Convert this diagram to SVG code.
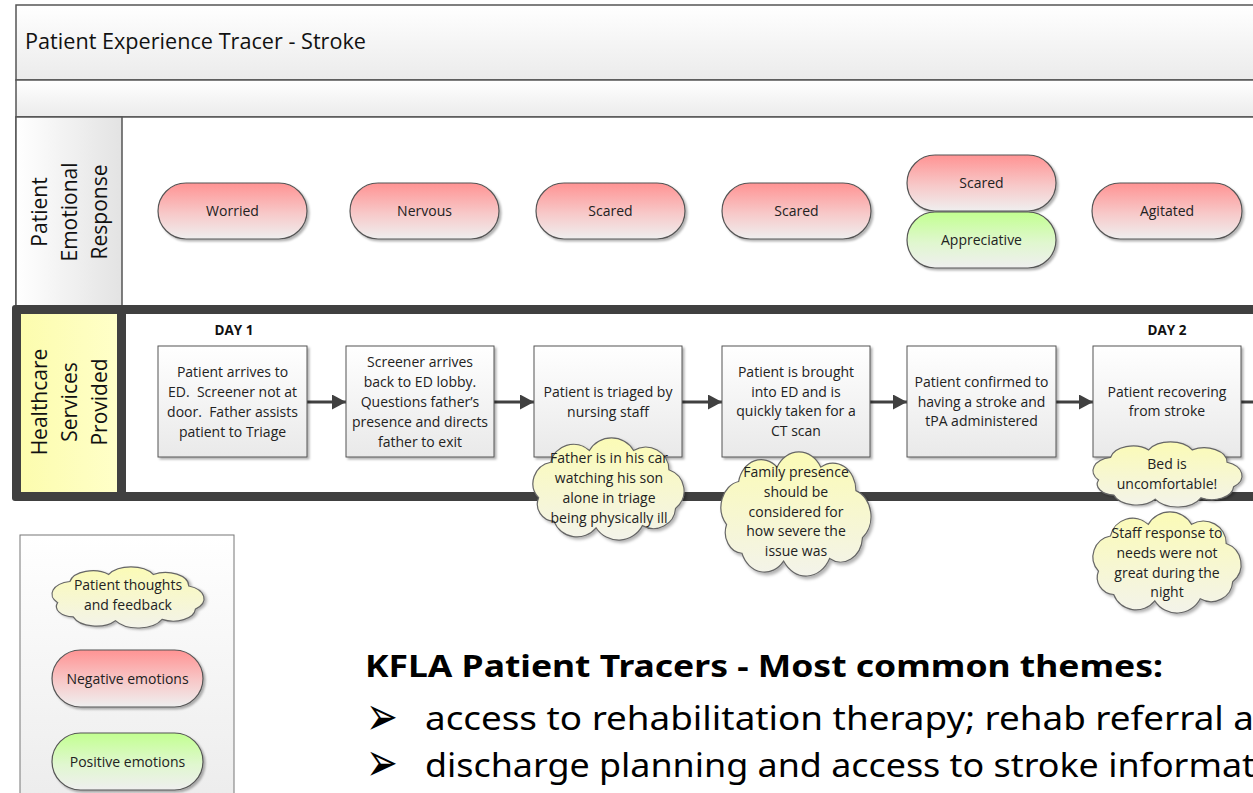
<svg xmlns="http://www.w3.org/2000/svg" xmlns:xlink="http://www.w3.org/1999/xlink" width="1253" height="793" viewBox="0 0 1253 793">
<style>
.t{font-family:"Open Sans","Noto Sans","DejaVu Sans",sans-serif;font-size:14px;fill:#222;text-anchor:middle}
.lane{font-family:"Open Sans","Noto Sans","DejaVu Sans",sans-serif;font-size:21px;fill:#111;text-anchor:middle}
.day{font-family:"Open Sans","Noto Sans",sans-serif;font-size:13.5px;font-weight:bold;fill:#111;text-anchor:middle}
.frame{stroke:#555;stroke-width:1.5}
.box{fill:url(#gBox);stroke:#555;stroke-width:1;filter:url(#sh)}
.neg{fill:url(#gRed);stroke:#555;stroke-width:1.2;filter:url(#sh)}
.pos{fill:url(#gGreen);stroke:#555;stroke-width:1.2;filter:url(#sh)}
.cloud{fill:url(#gCloud);stroke:#666;stroke-width:1.2;filter:url(#sh)}
.arr{stroke:#404040;stroke-width:3;fill:none}
.big{font-family:"Noto Sans","Open Sans",sans-serif;fill:#000}
.bul{font-family:"DejaVu Sans",sans-serif;font-size:38px;fill:#000}
</style>
<defs>
<linearGradient id="gBand" x1="0" y1="0" x2="0" y2="1"><stop offset="0" stop-color="#ffffff"/><stop offset="1" stop-color="#ebebeb"/></linearGradient>
<linearGradient id="gCol" x1="0" y1="0" x2="1" y2="0"><stop offset="0" stop-color="#ffffff"/><stop offset="1" stop-color="#e3e3e3"/></linearGradient>
<linearGradient id="gYellow" x1="0" y1="0" x2="1" y2="0"><stop offset="0" stop-color="#fcfcae"/><stop offset="1" stop-color="#ffffc8"/></linearGradient>
<linearGradient id="gBox" x1="0" y1="0" x2="0" y2="1"><stop offset="0" stop-color="#ffffff"/><stop offset="1" stop-color="#e9e9e9"/></linearGradient>
<linearGradient id="gRed" x1="0" y1="0" x2="0" y2="1"><stop offset="0" stop-color="#ff9393"/><stop offset="0.55" stop-color="#f7c9c9"/><stop offset="1" stop-color="#efefef"/></linearGradient>
<linearGradient id="gGreen" x1="0" y1="0" x2="0" y2="1"><stop offset="0" stop-color="#c2ff90"/><stop offset="0.55" stop-color="#e0f7cf"/><stop offset="1" stop-color="#efefef"/></linearGradient>
<linearGradient id="gCloud" x1="0" y1="0" x2="0" y2="1"><stop offset="0" stop-color="#fbfbb6"/><stop offset="1" stop-color="#f3f3ea"/></linearGradient>
<linearGradient id="gLegend" x1="0" y1="0" x2="0" y2="1"><stop offset="0" stop-color="#ffffff"/><stop offset="1" stop-color="#ececec"/></linearGradient>
<filter id="sh" x="-10%" y="-10%" width="125%" height="130%"><feDropShadow dx="2" dy="2" stdDeviation="1.3" flood-color="#000" flood-opacity="0.3"/></filter>
<marker id="ah" markerUnits="userSpaceOnUse" markerWidth="16" markerHeight="16" refX="14" refY="7.5" orient="auto"><path d="M0,0 L14,7.5 L0,15 Z" fill="#404040"/></marker>
<path id="cloudShape" vector-effect="non-scaling-stroke" d="M14,58 A20,20 0 0 1 25,25 A21,21 0 0 1 60,14 A23,23 0 0 1 100,14 A21,21 0 0 1 132,32 A21,21 0 0 1 138,68 A20,20 0 0 1 108,84 A24,24 0 0 1 66,86 A22,22 0 0 1 28,80 A16,16 0 0 1 14,58 Z"/>
</defs>

<rect width="1253" height="793" fill="#ffffff"/>

<g id="title-band">
<rect x="16" y="5" width="1250" height="75" fill="url(#gBand)" class="frame"/>
<text x="25" y="49" font-family="'Open Sans','Noto Sans',sans-serif" font-size="21" fill="#111" textLength="341" lengthAdjust="spacingAndGlyphs">Patient Experience Tracer - Stroke</text>
</g>
<g id="sub-band">
<rect x="16" y="80" width="1250" height="37" fill="url(#gBand)" class="frame"/>
</g>

<g id="lane-emotion">
<rect x="16" y="117" width="1250" height="190" fill="#ffffff" class="frame"/>
<rect x="16" y="117" width="106" height="190" fill="url(#gCol)" class="frame"/>
<g transform="translate(0,212) rotate(-90)">
<text class="lane" x="0" y="47">Patient</text>
<text class="lane" x="0" y="77">Emotional</text>
<text class="lane" x="0" y="107">Response</text>
</g>
</g>

<g id="lane-services">
<rect x="12" y="305" width="1260" height="196" rx="3" fill="#404040"/>
<rect x="126" y="314" width="1140" height="178" fill="#ffffff"/>
<rect x="21" y="314" width="96" height="178" fill="url(#gYellow)"/>
<g transform="translate(0,402) rotate(-90)">
<text class="lane" x="0" y="47">Healthcare</text>
<text class="lane" x="0" y="77">Services</text>
<text class="lane" x="0" y="107">Provided</text>
</g>
</g>

<g id="emotions">
<g id="em-worried"><rect x="158" y="183" width="149" height="56" rx="28" class="neg"/><text class="t" x="232.5" y="216">Worried</text></g>
<g id="em-nervous"><rect x="350" y="183" width="149" height="56" rx="28" class="neg"/><text class="t" x="424.5" y="216">Nervous</text></g>
<g id="em-scared1"><rect x="536" y="183" width="149" height="56" rx="28" class="neg"/><text class="t" x="610.5" y="216">Scared</text></g>
<g id="em-scared2"><rect x="722" y="183" width="149" height="56" rx="28" class="neg"/><text class="t" x="796.5" y="216">Scared</text></g>
<g id="em-scared3"><rect x="907" y="155" width="149" height="56" rx="28" class="neg"/><text class="t" x="981.5" y="188">Scared</text></g>
<g id="em-appreciative"><rect x="907" y="212" width="149" height="56" rx="28" class="pos"/><text class="t" x="981.5" y="245">Appreciative</text></g>
<g id="em-agitated"><rect x="1092" y="183" width="150" height="56" rx="28" class="neg"/><text class="t" x="1167" y="216">Agitated</text></g>
</g>

<text class="day" x="234" y="335">DAY 1</text>
<text class="day" x="1167" y="335">DAY 2</text>

<g id="connectors">
<line class="arr" x1="307" y1="402" x2="346" y2="402" marker-end="url(#ah)"/>
<line class="arr" x1="494" y1="402" x2="534" y2="402" marker-end="url(#ah)"/>
<line class="arr" x1="682" y1="402" x2="722" y2="402" marker-end="url(#ah)"/>
<line class="arr" x1="870" y1="402" x2="907" y2="402" marker-end="url(#ah)"/>
<line class="arr" x1="1056" y1="402" x2="1093" y2="402" marker-end="url(#ah)"/>
<line class="arr" x1="1241" y1="402" x2="1262" y2="402"/>
</g>

<g id="step1"><rect x="158" y="346" width="149" height="111" class="box"/>
<text class="t" x="232.5" y="377">Patient arrives to</text><text class="t" x="232.5" y="397" xml:space="preserve">ED.  Screener not at</text><text class="t" x="232.5" y="417" xml:space="preserve">door.  Father assists</text><text class="t" x="232.5" y="437">patient to Triage</text></g>
<g id="step2"><rect x="346" y="346" width="148" height="111" class="box"/>
<text class="t" x="420" y="367">Screener arrives</text><text class="t" x="420" y="387">back to ED lobby.</text><text class="t" x="420" y="407">Questions father’s</text><text class="t" x="420" y="427">presence and directs</text><text class="t" x="420" y="447">father to exit</text></g>
<g id="step3"><rect x="534" y="346" width="148" height="111" class="box"/>
<text class="t" x="608" y="397">Patient is triaged by</text><text class="t" x="608" y="417">nursing staff</text></g>
<g id="step4"><rect x="722" y="346" width="148" height="111" class="box"/>
<text class="t" x="796" y="377">Patient is brought</text><text class="t" x="796" y="397">into ED and is</text><text class="t" x="796" y="416">quickly taken for a</text><text class="t" x="796" y="436">CT scan</text></g>
<g id="step5"><rect x="907" y="346" width="149" height="111" class="box"/>
<text class="t" x="981.5" y="387">Patient confirmed to</text><text class="t" x="981.5" y="407">having a stroke and</text><text class="t" x="981.5" y="426">tPA administered</text></g>
<g id="step6"><rect x="1093" y="346" width="148" height="111" class="box"/>
<text class="t" x="1167" y="397">Patient recovering</text><text class="t" x="1167" y="416">from stroke</text></g>

<g id="thought1"><use xlink:href="#cloudShape" class="cloud" transform="translate(533,438) scale(1.104,1.074) translate(-8.9,-2.4)"/>
<text class="t" x="609" y="463">Father is in his car</text><text class="t" x="609" y="483">watching his son</text><text class="t" x="609" y="503">alone in triage</text><text class="t" x="609" y="523">being physically ill</text></g>
<g id="thought2"><use xlink:href="#cloudShape" class="cloud" transform="translate(721,452) scale(1.096,1.305) translate(-8.9,-2.4)"/>
<text class="t" x="796" y="477">Family presence</text><text class="t" x="796" y="497">should be</text><text class="t" x="796" y="517">considered for</text><text class="t" x="796" y="536">how severe the</text><text class="t" x="796" y="556">issue was</text></g>
<g id="thought3"><use xlink:href="#cloudShape" class="cloud" transform="translate(1093,442) scale(1.089,0.684) translate(-8.9,-2.4)"/>
<text class="t" x="1167" y="469">Bed is</text><text class="t" x="1167" y="489">uncomfortable!</text></g>
<g id="thought4"><use xlink:href="#cloudShape" class="cloud" transform="translate(1093,512) scale(1.082,1.063) translate(-8.9,-2.4)"/>
<text class="t" x="1167" y="538">Staff response to</text><text class="t" x="1167" y="558">needs were not</text><text class="t" x="1167" y="578">great during the</text><text class="t" x="1167" y="597">night</text></g>

<g id="legend">
<rect x="20" y="535" width="214" height="270" fill="url(#gLegend)" stroke="#777" stroke-width="1"/>
<g id="legend-thought"><use xlink:href="#cloudShape" class="cloud" transform="translate(52,567) scale(1.111,0.642) translate(-8.9,-2.4)"/>
<text class="t" x="128" y="590">Patient thoughts</text><text class="t" x="128" y="610">and feedback</text></g>
<g id="legend-neg"><rect x="52" y="650" width="151" height="57" rx="28.5" class="neg"/><text class="t" x="127.5" y="684">Negative emotions</text></g>
<g id="legend-pos"><rect x="52" y="733" width="151" height="57" rx="28.5" class="pos"/><text class="t" x="127.5" y="767">Positive emotions</text></g>
</g>

<g id="themes">
<text class="big" x="365" y="677" font-size="31" font-weight="bold" textLength="798" lengthAdjust="spacingAndGlyphs">KFLA Patient Tracers - Most common themes:</text>
<text class="bul" transform="translate(366,735) scale(1,1.45)">➢</text>
<text class="big" x="425" y="730" font-size="33" textLength="829" lengthAdjust="spacingAndGlyphs">access to rehabilitation therapy; rehab referral a</text>
<text class="bul" transform="translate(366,781) scale(1,1.45)">➢</text>
<text class="big" x="425" y="777" font-size="33" textLength="830" lengthAdjust="spacingAndGlyphs">discharge planning and access to stroke informat</text>
</g>
</svg>
